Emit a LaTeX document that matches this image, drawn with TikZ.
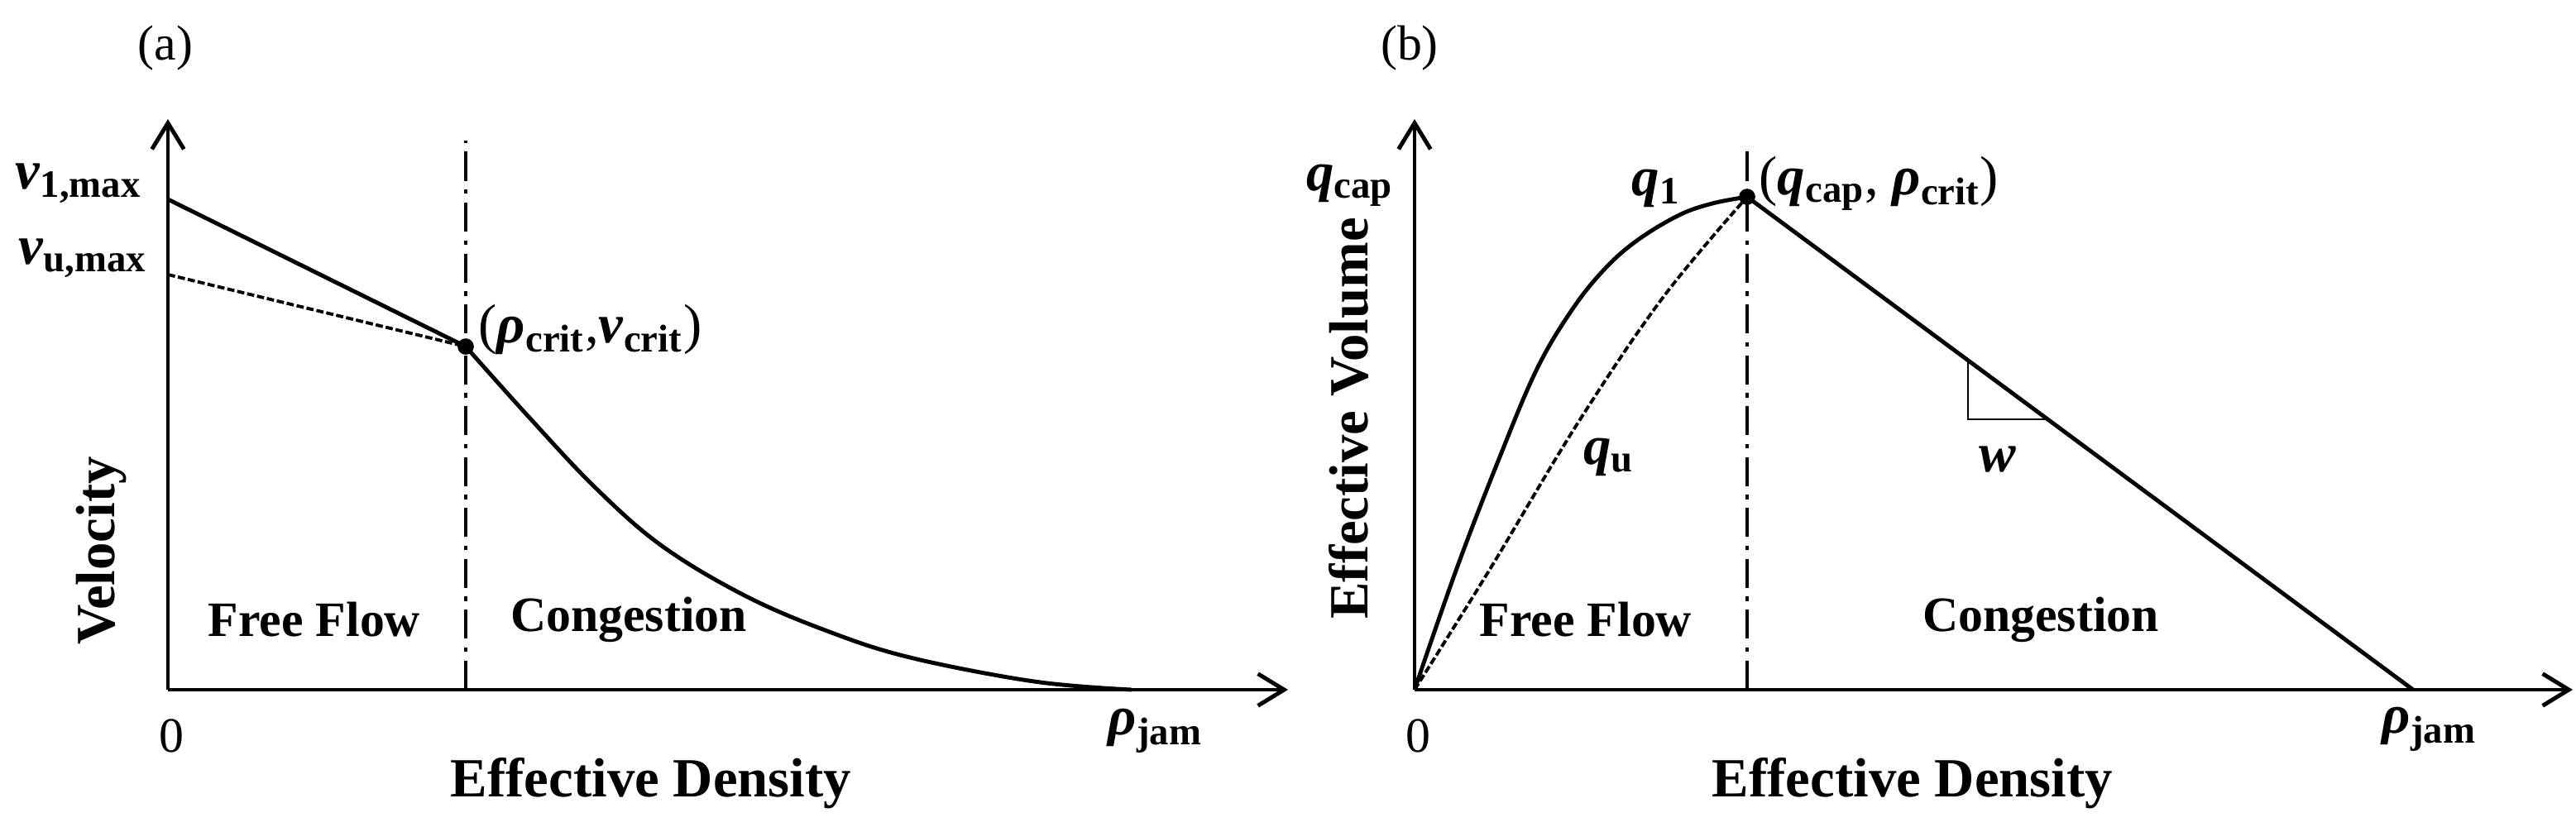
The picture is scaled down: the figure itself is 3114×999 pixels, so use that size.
\documentclass[tikz,border=0pt]{standalone}
\usepackage{fontspec}
\setmainfont{Liberation Serif}
\usetikzlibrary{arrows.meta}
\newcommand\vv[2]{\textbf{\textit{#1}}\textsubscript{\textbf{#2}}}
\begin{document}
\begin{tikzpicture}[x=0.01cm,y=-0.01cm,
  ax/.style={line width=1.4pt,-{Straight Barb[length=9pt,width=11pt,line width=1.4pt]}},
  crv/.style={line width=1.4pt},
  dsh/.style={line width=1.1pt,dash pattern=on 2.5pt off 1pt},
  dd/.style={line width=1.2pt,dash pattern=on 10pt off 3pt on 1.5pt off 3pt},
  lab/.style={font=\bfseries\fontsize{17}{20}\selectfont,inner sep=0pt},
  math/.style={font=\fontsize{19}{22}\selectfont,inner sep=0pt},
  axl/.style={font=\bfseries\fontsize{19}{23}\selectfont,inner sep=0pt}]
\useasboundingbox (0,0) rectangle (3114,999);
% panel a
\coordinate (o1) at (203,834);
\coordinate (yt1) at (203,144);
\coordinate (xt1) at (1557,834);
\draw[ax] (o1) -- (yt1);
\draw[ax] (o1) -- (xt1);
\coordinate (d1t) at (563,170);
\coordinate (d1b) at (563,834);
\draw[dd] (d1b) -- (d1t);
\coordinate (v1) at (203,241);
\coordinate (vu) at (203,332);
\coordinate (c1) at (563,419);
\coordinate (j1) at (1368,834);
\draw[crv] (v1) -- (c1);
\draw[dsh] (vu) -- (c1);
\draw[crv] plot[smooth,tension=0.6] coordinates {(563,419) (640,505) (720,590) (800,660) (900,720) (1000,763) (1100,795) (1250,824) (1368,834)};
\fill (c1) circle (2.8pt);
\node[font=\fontsize{17}{20}\selectfont] (la) at (200,58) {(a)};
\node[math] (lv1) at (95,222) {\vv{v}{1,max}};
\node[math] (lvu) at (100,312) {\vv{v}{u,max}};
\node[math,anchor=west] (lc1) at (578,398) {(\vv{ρ}{crit},\vv{v}{crit})};
\node[axl,rotate=90] (lvel) at (123,666) {Velocity};
\node[lab] (ff1) at (380,749) {Free Flow};
\node[lab] (cg1) at (760,749) {Congestion};
\node[font=\fontsize{17}{20}\selectfont,inner sep=0pt] (z1) at (207,890) {0};
\node[math] (rj1) at (1397,884) {\vv{ρ}{jam}};
\node[axl] (ed1) at (787,947) {Effective Density};
% panel b
\coordinate (o2) at (1710,834);
\coordinate (yt2) at (1710,144);
\coordinate (xt2) at (3110,834);
\draw[ax] (o2) -- (yt2);
\draw[ax] (o2) -- (xt2);
\coordinate (d2t) at (2112,173);
\coordinate (d2b) at (2112,834);
\draw[dd] (d2b) -- (d2t);
\coordinate (p2) at (2112,238);
\coordinate (j2) at (2917,834);
\draw[crv] plot[smooth,tension=0.6] coordinates {(1710,834) (1760,690) (1810,560) (1857,448) (1900,375) (1940,325) (1980,290) (2030,260) (2070,246) (2112,238)};
\draw[dsh] plot[smooth,tension=0.6] coordinates {(1710,834) (1800,690) (1907,512) (2010,360) (2112,238)};
\draw[crv] (p2) -- (j2);
\coordinate (t1) at (2379,435);
\coordinate (t2) at (2379,507);
\coordinate (t3) at (2475,507);
\draw[line width=0.8pt] (t1) -- (t2) -- (t3);
\fill (p2) circle (2.8pt);
\node[font=\fontsize{17}{20}\selectfont] (lb) at (1704,58) {(b)};
\node[math] (lqc) at (1632,224) {\vv{q}{cap}};
\node[math] (lq1) at (2002,228) {\vv{q}{1}};
\node[math,anchor=west] (lc2) at (2126,222) {(\vv{q}{cap}, \vv{ρ}{crit})};
\node[axl,rotate=90] (lev) at (1630,506) {Effective Volume};
\node[math] (lqu) at (1945,553) {\vv{q}{u}};
\node[math] (lw) at (2415,555) {\textbf{\textit{w}}};
\node[lab] (ff2) at (1917,749) {Free Flow};
\node[lab] (cg2) at (2467,749) {Congestion};
\node[font=\fontsize{17}{20}\selectfont,inner sep=0pt] (z2) at (1714,890) {0};
\node[math] (rj2) at (2937,882) {\vv{ρ}{jam}};
\node[axl] (ed2) at (2312,947) {Effective Density};
\end{tikzpicture}
\end{document}
